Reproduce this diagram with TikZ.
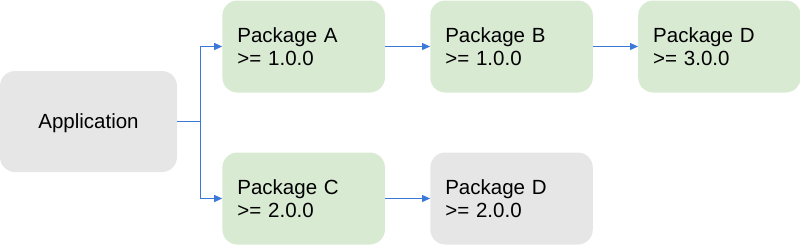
\documentclass[tikz,border=0pt]{standalone}
\usepackage{fontspec}
\setmainfont{Liberation Sans}
\usepackage{tikz}
\usetikzlibrary{positioning,arrows.meta}
\usepackage{xcolor}
\definecolor{pkggreen}{HTML}{D9EAD3}
\definecolor{pkggray}{HTML}{E6E6E6}
\definecolor{linkblue}{HTML}{3C78D8}

\begin{document}
\begin{tikzpicture}[node distance=45pt, >={Triangle[length=8pt,width=7pt]},
    box/.style={rounded corners=15pt, font=\fontsize{20.5pt}{23.5pt}\selectfont},
    pkg/.style={box, fill=pkggreen, minimum height=92pt, text width=132.5pt, inner xsep=15pt, align=left},
    link/.style={->, draw=linkblue, line width=1pt}]

  \useasboundingbox (0,0) rectangle (800pt,-244pt);

  \node[box, fill=pkggray, text depth=0pt, minimum width=177pt, minimum height=101pt] (app) at (88.5pt,-121.5pt) {Application};
  \node[pkg, right=of app, yshift=75pt] (pkgA) {Package A\\>= 1.0.0};
  \node[pkg, right=of pkgA] (pkgB) {Package B\\>= 1.0.0};
  \node[pkg, right=of pkgB] (pkgD) {Package D\\>= 3.0.0};
  \node[pkg, right=of app, yshift=-77pt] (pkgC) {Package C\\>= 2.0.0};
  \node[pkg, fill=pkggray, right=of pkgC] (pkgDold) {Package D\\>= 2.0.0};

  \coordinate[right=23pt of app] (fork);

  \draw[link] (app) -- (fork) |- (pkgA);
  \draw[link] (fork) |- (pkgC);
  \draw[link] (pkgA) -- (pkgB);
  \draw[link] (pkgB) -- (pkgD);
  \draw[link] (pkgC) -- (pkgDold);
\end{tikzpicture}
\end{document}
